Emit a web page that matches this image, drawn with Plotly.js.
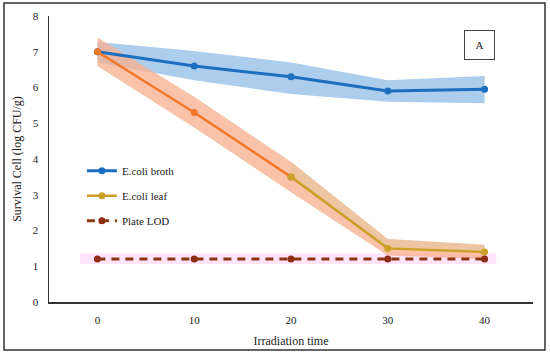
<!DOCTYPE html>
<html>
<head>
<meta charset="utf-8">
<script src="https://cdn.plot.ly/plotly-3.0.1.min.js"></script>
<style>html,body{margin:0;padding:0;background:#fff}#chart{width:550px;height:355px}</style>
</head>
<body>
<div id="chart"></div>
<script>
// Data
var times = [0, 10, 20, 30, 40];
var brothMean  = [7.0, 6.6, 6.3, 5.9, 5.95];
var brothUpper = [7.27, 7.02, 6.7, 6.2, 6.32];
var brothLower = [6.7, 6.2, 5.82, 5.6, 5.56];
var leafMean  = [7.0, 5.3, 3.5, 1.5, 1.4];
var leafUpper = [7.4, 5.74, 3.92, 1.76, 1.6];
var leafLower = [6.6, 4.88, 3.07, 1.3, 1.2];
var lodMean  = [1.2, 1.2, 1.2, 1.2, 1.2];
var lodUpper = [1.36, 1.36, 1.36, 1.36, 1.36];
var lodLower = [1.06, 1.06, 1.06, 1.06, 1.06];
var lodBandX = [-1.8, 41.2];
var xTicks = [0, 10, 20, 30, 40];
var yTicks = [0, 1, 2, 3, 4, 5, 6, 7, 8];

function band(x, up, lo) {
  return { x: x.concat(x.slice().reverse()), y: up.concat(lo.slice().reverse()) };
}
var bB = band(times, brothUpper, brothLower);
var bL = band(times, leafUpper, leafLower);
var tailX = times.slice(2), tailUp = leafUpper.slice(2), tailMid = leafMean.slice(2);
var bT = band(tailX, tailUp, tailMid);
var bP = band(lodBandX, [lodUpper[0], lodUpper[4]], [lodLower[0], lodLower[4]]);

var serif = 'Liberation Serif, Times New Roman, serif';
var traces = [
  {x: bP.x, y: bP.y, fill: 'toself', fillcolor: 'rgb(255,228,251)', line: {width: 0}, mode: 'lines', showlegend: false, hoverinfo: 'skip'},
  {x: bB.x, y: bB.y, fill: 'toself', fillcolor: 'rgb(172,206,236)', line: {width: 0}, mode: 'lines', showlegend: false, hoverinfo: 'skip'},
  {x: bL.x, y: bL.y, fill: 'toself', fillcolor: 'rgba(248,175,140,0.75)', line: {width: 0}, mode: 'lines', showlegend: false, hoverinfo: 'skip'},
  {x: bT.x, y: bT.y, fill: 'toself', fillcolor: 'rgba(215,200,150,0.35)', line: {width: 0}, mode: 'lines', showlegend: false, hoverinfo: 'skip'},
  {x: times, y: brothMean, mode: 'lines+markers', name: 'E.coli broth', legendgroup: 'a',
   line: {color: 'rgb(28,110,192)', width: 3}, marker: {color: 'rgb(28,110,192)', size: 7}},
  {x: times.slice(0, 3), y: leafMean.slice(0, 3), mode: 'lines+markers', showlegend: false,
   line: {color: 'rgb(240,120,40)', width: 2.5}, marker: {color: 'rgb(240,120,40)', size: 7}},
  {x: times.slice(2), y: leafMean.slice(2), mode: 'lines+markers', name: 'E.coli leaf', legendgroup: 'b',
   line: {color: 'rgb(204,160,40)', width: 2.5}, marker: {color: 'rgb(204,160,40)', size: 7}},
  {x: times, y: lodMean, mode: 'lines+markers', name: 'Plate LOD', legendgroup: 'c',
   line: {color: 'rgb(140,55,20)', width: 3, dash: '8px,6px'}, marker: {color: 'rgb(140,45,20)', size: 7}}
];

var layout = {
  width: 550, height: 355,
  margin: {l: 49, r: 17, t: 16, b: 53},
  paper_bgcolor: '#fff', plot_bgcolor: '#fff',
  font: {family: serif, size: 11, color: '#222'},
  showlegend: true,
  legend: {x: 0.068, y: 0.51, xanchor: 'left', yanchor: 'top', bgcolor: 'rgba(0,0,0,0)',
           font: {family: serif, size: 11, color: '#222'}, tracegroupgap: 6, itemwidth: 30},
  xaxis: {range: [-5, 45], tickvals: xTicks, ticktext: xTicks.map(String), showgrid: false, zeroline: false,
          showline: true, linecolor: '#333', linewidth: 1.5, ticks: 'outside', ticklen: 7, tickcolor: 'rgba(0,0,0,0)',
          title: {text: 'Irradiation time', font: {family: serif, size: 12, color: '#222'}, standoff: 12}, fixedrange: true},
  yaxis: {range: [0, 8], tickvals: yTicks, showgrid: false, zeroline: false,
          showline: true, linecolor: '#333', linewidth: 1.5, ticks: 'outside', ticklen: 7, tickcolor: 'rgba(0,0,0,0)',
          title: {text: 'Survival Cell (log CFU/g)', font: {family: serif, size: 12, color: '#222'}, standoff: 8}, fixedrange: true},
  shapes: [
    {type: 'rect', xref: 'paper', yref: 'paper', x0: -0.0930, x1: 1.0248, y0: -0.1678, y1: 1.0455,
     line: {color: '#333', width: 1.5}, fillcolor: 'rgba(0,0,0,0)', layer: 'above'}
  ],
  annotations: [
    {xref: 'paper', yref: 'paper', x: 0.9215, y: 0.951, text: 'A', showarrow: false,
     font: {family: serif, size: 11, color: '#222'}, bordercolor: '#444', borderwidth: 1,
     width: 27, height: 26, align: 'center', valign: 'middle'}
  ]
};
Plotly.newPlot('chart', traces, layout, {displayModeBar: false, staticPlot: true});
</script>
</body>
</html>
